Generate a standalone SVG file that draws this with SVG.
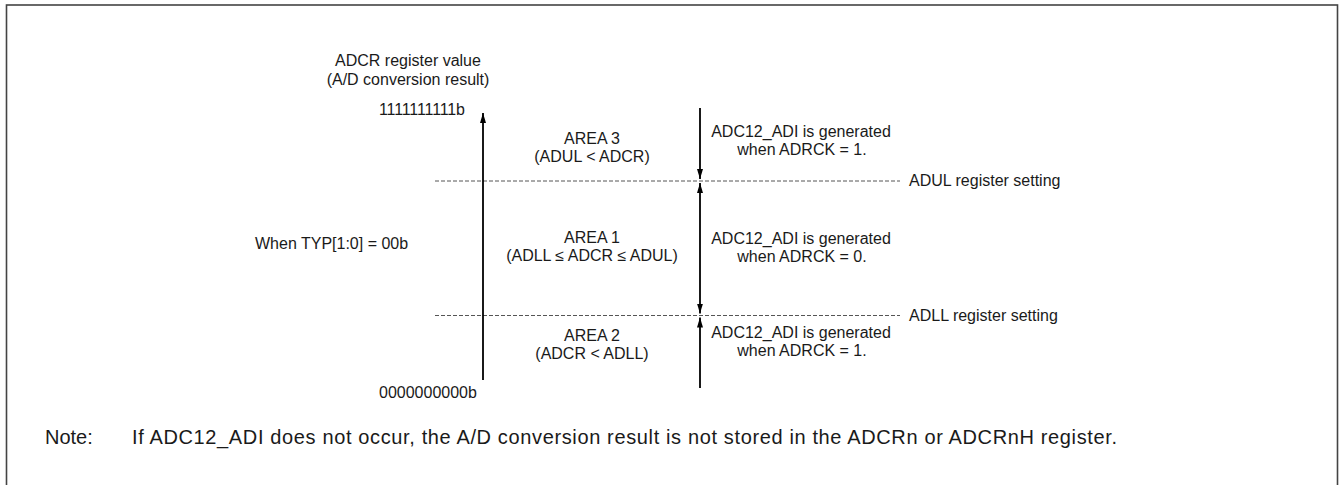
<svg xmlns="http://www.w3.org/2000/svg" width="1340" height="485" viewBox="0 0 1340 485">
<defs>
<style>
text{font-family:"Liberation Sans",Arial,sans-serif;font-size:16px;fill:#1a1a1a}
.c{text-anchor:middle}
.fn{font-size:20px}
.dash{stroke:#555;stroke-width:1;stroke-dasharray:4 2;fill:none}
.ax{stroke:#000;stroke-width:1.8;fill:none}
</style>
<marker id="ah" viewBox="0 0 10 10" refX="10" refY="5" markerWidth="10" markerHeight="10" markerUnits="userSpaceOnUse" orient="auto-start-reverse">
<path d="M0,2 L10,5 L0,8 Z" fill="#000"/>
</marker>
</defs>
<rect width="1340" height="485" fill="#fff"/>
<rect x="6.5" y="5" width="1331" height="500" fill="none" stroke="#444" stroke-width="1.6"/>

<g id="connectors">
<line class="dash" x1="435" y1="181" x2="900" y2="181"/>
<line class="dash" x1="435" y1="315.5" x2="900" y2="315.5"/>
<line class="ax" x1="483" y1="380" x2="483" y2="113" marker-end="url(#ah)"/>
<line class="ax" x1="700" y1="108" x2="700" y2="179" marker-end="url(#ah)"/>
<line class="ax" x1="700" y1="183" x2="700" y2="313.5" marker-start="url(#ah)" marker-end="url(#ah)"/>
<line class="ax" x1="700" y1="317.5" x2="700" y2="388" marker-start="url(#ah)"/>
</g>

<g id="axis-title">
<text class="c" x="408" y="66">ADCR register value</text>
<text class="c" x="408" y="85">(A/D conversion result)</text>
</g>
<g id="axis-max"><text x="379" y="115" textLength="86" lengthAdjust="spacing">1111111111b</text></g>
<g id="axis-min"><text x="379" y="398">0000000000b</text></g>
<g id="typ-label"><text x="255" y="249">When TYP[1:0] = 00b</text></g>

<g id="area3">
<text class="c" x="592" y="144">AREA 3</text>
<text class="c" x="592" y="162">(ADUL &lt; ADCR)</text>
</g>
<g id="area1">
<text class="c" x="592" y="243">AREA 1</text>
<text class="c" x="592" y="261">(ADLL ≤ ADCR ≤ ADUL)</text>
</g>
<g id="area2">
<text class="c" x="592" y="341">AREA 2</text>
<text class="c" x="592" y="359">(ADCR &lt; ADLL)</text>
</g>

<g id="note-area3">
<text class="c" x="801" y="137">ADC12_ADI is generated</text>
<text class="c" x="802" y="155">when ADRCK = 1.</text>
</g>
<g id="note-area1">
<text class="c" x="801" y="244">ADC12_ADI is generated</text>
<text class="c" x="802" y="262">when ADRCK = 0.</text>
</g>
<g id="note-area2">
<text class="c" x="801" y="338">ADC12_ADI is generated</text>
<text class="c" x="802" y="356">when ADRCK = 1.</text>
</g>

<g id="adul-setting"><text x="909" y="186">ADUL register setting</text></g>
<g id="adll-setting"><text x="909" y="321">ADLL register setting</text></g>

<g id="footnote">
<text class="fn" x="45" y="444">Note:</text>
<text class="fn" x="132" y="444" textLength="985" lengthAdjust="spacing">If ADC12_ADI does not occur, the A/D conversion result is not stored in the ADCRn or ADCRnH register.</text>
</g>
</svg>
